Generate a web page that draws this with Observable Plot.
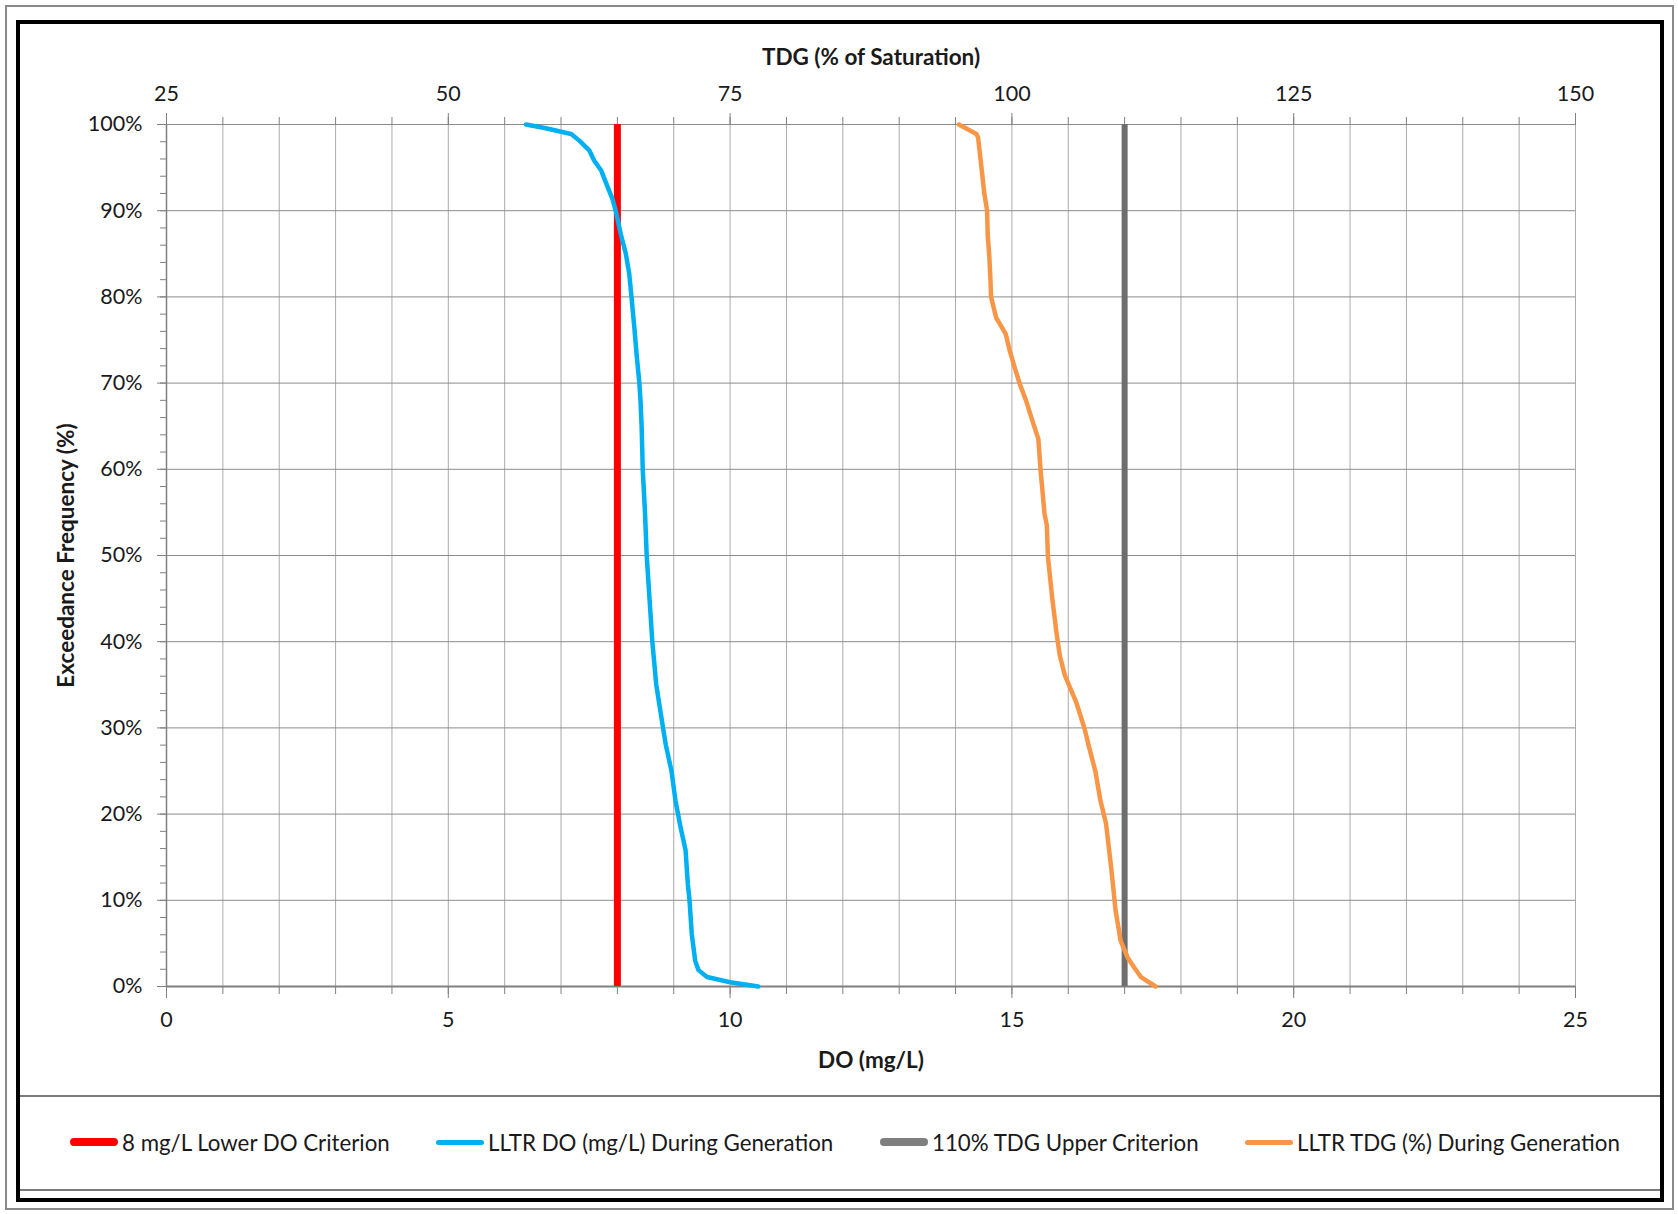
<!DOCTYPE html>
<html>
<head>
<meta charset="utf-8">
<script src="https://cdn.jsdelivr.net/npm/d3@7"></script>
<script src="https://cdn.jsdelivr.net/npm/@observablehq/plot@0.6"></script>
<style>
  body { margin: 0; background: #fff; }
  #page { position: relative; width: 1678px; height: 1214px; overflow: hidden; font-family: Lato, "Open Sans", sans-serif; color: #1a1a1a; }
  #chart { position: absolute; left: 0; top: 0; }
  #outer { position: absolute; left: 5px; top: 5px; width: 1669px; height: 1205px; border: 2px solid #8a8a8a; box-sizing: border-box; pointer-events: none; }
  #frame { position: absolute; left: 16px; top: 20px; width: 1648px; height: 1182px; border: 4px solid #000; box-sizing: border-box; pointer-events: none; }
  #legend { position: absolute; left: 20px; top: 1095px; width: 1640px; height: 96px; border-top: 2px solid #7a7a7a; border-bottom: 2px solid #7a7a7a; box-sizing: border-box; }
  .item { position: absolute; top: 31px; height: 28px; display: flex; align-items: center; font-size: 22.3px; white-space: nowrap; }
  .sw { display: inline-block; width: 48px; margin-right: 4px; border-radius: 4px; }
</style>
</head>
<body>
<div id="page">
  <div id="chart"></div>
  <div id="legend"></div>
  <div id="outer"></div>
  <div id="frame"></div>
</div>
<script>
// ---- Data ----
// Exceedance frequency (%) and DO (mg/L) during generation
const doPct   = [100, 99.6, 98.9, 98.1, 97.0, 95.8, 94.7, 92.7, 91.4, 90, 87.3, 85, 82.7, 80, 76.5, 73.4, 70, 68, 65, 60, 55, 50, 45, 40, 35, 30, 28, 25, 21.6, 18.5, 15.8, 11.9, 10, 6.1, 3.0, 1.9, 1.1, 0.5, 0];
const doValue = [6.38, 6.71, 7.18, 7.33, 7.50, 7.59, 7.71, 7.83, 7.91, 7.97, 8.06, 8.15, 8.21, 8.25, 8.30, 8.34, 8.39, 8.41, 8.43, 8.45, 8.49, 8.52, 8.57, 8.62, 8.69, 8.81, 8.86, 8.96, 9.03, 9.12, 9.21, 9.25, 9.28, 9.32, 9.38, 9.44, 9.59, 10.0, 10.5];
// Exceedance frequency (%) and TDG (% of saturation) during generation
const tdgPct   = [100, 98.9, 98.5, 95, 92, 90, 87.3, 84.6, 81.9, 80, 77.6, 75.7, 73.8, 71.8, 69.9, 68, 65.3, 63.5, 59.8, 54.8, 53.5, 49.8, 44.8, 41.1, 38.4, 36.1, 33, 29.9, 28, 25, 21.6, 18.9, 13.9, 8.8, 5.3, 3.4, 2.2, 1.1, 0];
const tdgValue = [95.3, 96.85, 97.0, 97.3, 97.55, 97.8, 97.85, 98.0, 98.1, 98.15, 98.6, 99.45, 99.8, 100.25, 100.7, 101.25, 101.9, 102.35, 102.55, 102.9, 103.1, 103.2, 103.6, 103.95, 104.25, 104.7, 105.7, 106.45, 106.8, 107.4, 107.85, 108.35, 108.8, 109.2, 109.65, 110.25, 110.85, 111.45, 112.75];
// Criteria
const doCriterion = 8;      // mg/L
const tdgCriterion = 110;   // % saturation
// Axes
const doTicks  = [0, 5, 10, 15, 20, 25];
const tdgTicks = [25, 50, 75, 100, 125, 150];
const pctTicks = [0, 10, 20, 30, 40, 50, 60, 70, 80, 90, 100];
const seriesNames  = ["8 mg/L Lower DO Criterion", "LLTR DO (mg/L) During Generation", "110% TDG Upper Criterion", "LLTR TDG (%) During Generation"];
const seriesColors = ["#FF0000", "#00B0F0", "#7F7F7F", "#F79646"];
const titles = { top: "TDG (% of Saturation)", bottom: "DO (mg/L)", left: "Exceedance Frequency (%)" };

// Secondary (top) axis maps linearly onto the primary DO axis: TDG 25..150 <-> DO 0..25
const tdgToDo = t => (t - 25) / 5;
const doToTdg = d => 25 + 5 * d;

const doData  = doPct.map((p, i) => ({pct: p, x: doValue[i]}));
const tdgData = tdgPct.map((p, i) => ({pct: p, x: tdgToDo(tdgValue[i])}));

const W = 1678, H = 1090;
const font = "Lato, 'Open Sans', sans-serif";
const axisColor = "#808080";
const titleSize = 22.5;

const chart = Plot.plot({
  width: W, height: H,
  marginLeft: 166, marginRight: 103, marginTop: 124, marginBottom: H - 986,
  style: { background: "transparent", fontFamily: font, fontSize: "21.5px", color: "#1a1a1a", overflow: "visible" },
  x: { domain: [0, 25], label: null },
  y: { domain: [0, 100], label: null },
  marks: [
    Plot.gridX(d3.range(0, 26), { stroke: "#ababab", strokeOpacity: 1 }),
    Plot.gridY(pctTicks, { stroke: "#8c8c8c", strokeOpacity: 1 }),
    // axis lines
    Plot.ruleX([0], { stroke: axisColor, strokeWidth: 1.5 }),
    Plot.ruleY([0], { stroke: axisColor, strokeWidth: 2 }),
    // bottom DO axis
    Plot.axisX(d3.range(0, 26), { anchor: "bottom", tickSize: 8, tickFormat: () => "", stroke: axisColor, label: null }),
    Plot.axisX(doTicks, { anchor: "bottom", tickSize: 12, tickPadding: 13, stroke: axisColor, label: null, fontSize: 21.5 }),
    // top TDG axis
    Plot.axisX(d3.range(0, 26), { anchor: "top", tickSize: 8, tickFormat: () => "", stroke: axisColor, label: null }),
    Plot.axisX(tdgTicks.map(tdgToDo), { anchor: "top", tickSize: 12, tickPadding: 12, tickFormat: d => doToTdg(d), stroke: axisColor, label: null, fontSize: 21.5 }),
    // y axis
    Plot.axisY(d3.range(0, 101, 2), { anchor: "left", tickSize: 6, tickFormat: () => "", stroke: axisColor, label: null }),
    Plot.axisY(pctTicks, { anchor: "left", tickSize: 9, tickPadding: 15, tickFormat: d => d + "%", stroke: axisColor, label: null, fontSize: 21.5 }),
    // series
    Plot.ruleX([doCriterion], { y1: 0, y2: 100, stroke: seriesColors[0], strokeWidth: 7 }),
    Plot.line(doData, { x: "x", y: "pct", stroke: seriesColors[1], strokeWidth: 4.5, curve: "linear", strokeLinejoin: "round", strokeLinecap: "round" }),
    Plot.ruleX([tdgToDo(tdgCriterion)], { y1: 0, y2: 100, stroke: "#6e6e6e", strokeWidth: 6 }),
    Plot.line(tdgData, { x: "x", y: "pct", stroke: seriesColors[3], strokeWidth: 4.5, curve: "linear", strokeLinejoin: "round", strokeLinecap: "round" }),
    // axis titles
    Plot.text([titles.top], { frameAnchor: "top", dy: -67, text: d => d, fontWeight: "bold", fontSize: titleSize, lineAnchor: "middle", textAnchor: "middle", fill: "#1a1a1a" }),
    Plot.text([titles.bottom], { frameAnchor: "bottom", dy: 74, text: d => d, fontWeight: "bold", fontSize: titleSize, lineAnchor: "middle", textAnchor: "middle", fill: "#1a1a1a" }),
    Plot.text([titles.left], { frameAnchor: "left", dx: -100, rotate: -90, text: d => d, fontWeight: "bold", fontSize: titleSize, lineAnchor: "middle", textAnchor: "middle", fill: "#1a1a1a" })
  ]
});
document.getElementById("chart").appendChild(chart);

// Legend
const legend = document.getElementById("legend");
const lefts = [50, 416, 860, 1225];
const swH = [8, 5, 8, 5];
seriesNames.forEach((name, i) => {
  const it = document.createElement("div");
  it.className = "item";
  it.style.left = lefts[i] + "px";
  const sw = document.createElement("span");
  sw.className = "sw";
  sw.style.height = swH[i] + "px";
  sw.style.background = seriesColors[i];
  it.appendChild(sw);
  const t = document.createElement("span");
  t.textContent = name;
  it.appendChild(t);
  legend.appendChild(it);
});
</script>
</body>
</html>
